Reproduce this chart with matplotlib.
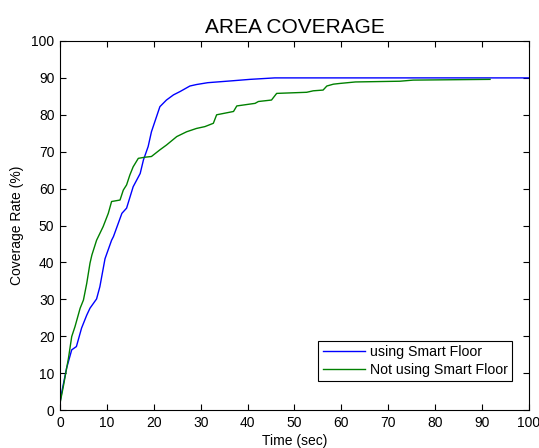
#!/usr/bin/env python3

import matplotlib.pyplot as plt
import numpy as np

plt.rcParams['font.family'] = ['Liberation Sans', 'DejaVu Sans']

# using Smart Floor
t_smart = [0, 0.4, 1.4, 2.5, 3.5, 4.6, 5.7, 6.4, 7.8, 8.5, 9.6, 11.0, 11.4, 13.2, 14.2,
           15.6, 17.1, 17.8, 18.8, 19.5, 21.3, 22.7, 24.2, 25.6, 27.7, 29.1, 31.5,
           36.6, 40.5, 45.8, 60, 80, 100]
v_smart = [2.0, 5.0, 11.3, 16.3, 17.2, 22.2, 25.7, 27.6, 30.1, 33.4, 41.0, 46.0, 47.0, 53.3, 54.7,
           60.5, 64.1, 67.8, 71.4, 75.4, 82.2, 84.0, 85.4, 86.3, 87.8, 88.2, 88.7,
           89.2, 89.6, 90.0, 90.0, 90.0, 90.0]

# Not using Smart Floor
t_plain = [0, 0.7, 1.8, 2.5, 3.2, 4.3, 5.0, 5.7, 6.4, 6.8, 7.8, 9.2, 10.3, 11.0, 12.8,
           13.5, 14.2, 14.9, 15.6, 16.7, 18.1, 19.5, 21.3, 22.7, 24.9, 27.0, 29.1,
           30.9, 32.7, 33.4, 37.0, 37.7, 41.6, 42.3, 45.1, 46.2, 52.6, 54.0, 56.1,
           56.9, 58.3, 59.7, 63.0, 72.5, 75.3, 91.7]
v_plain = [1.8, 6.3, 14.0, 19.9, 22.6, 27.6, 29.8, 34.3, 39.8, 42.0, 46.0, 49.7, 53.3, 56.5, 56.9,
           59.6, 61.0, 63.7, 65.9, 68.2, 68.5, 68.7, 70.5, 71.8, 74.1, 75.4, 76.3,
           76.8, 77.7, 80.0, 80.9, 82.4, 83.1, 83.6, 84.0, 85.8, 86.1, 86.5, 86.7,
           87.8, 88.3, 88.5, 88.9, 89.1, 89.4, 89.6]

xticks = np.arange(0, 101, 10)
yticks = np.arange(0, 101, 10)


def makePlot():
    fig = plt.figure(figsize=(5.39, 4.48), dpi=100)
    ax = fig.add_axes([0.1113, 0.0848, 0.8701, 0.8237])

    ax.plot(t_smart, v_smart, color=(0, 0, 1), lw=1.0, label='using Smart Floor')
    ax.plot(t_plain, v_plain, color=(0, 0.5, 0), lw=1.0, label='Not using Smart Floor')

    ax.set_xlim(0, 100)
    ax.set_ylim(0, 100)
    ax.set_xticks(xticks)
    ax.set_yticks(yticks)
    ax.tick_params(direction='in', top=True, right=True, length=4, width=0.8,
                   labelsize=10, pad=4)
    for s in ax.spines.values():
        s.set_linewidth(0.8)

    ax.set_xlabel('Time (sec)', fontsize=10, labelpad=3)
    ax.set_ylabel('Coverage Rate (%)', fontsize=10, labelpad=5)
    ax.set_title('AREA COVERAGE', fontsize=15, pad=6)

    leg = ax.legend(loc='lower right', fontsize=10.2, fancybox=False, framealpha=1,
                    edgecolor='black', handlelength=3.0, borderpad=0.3,
                    labelspacing=0.25, handletextpad=0.35, borderaxespad=0.0,
                    bbox_to_anchor=(0.964, 0.0786))
    leg.get_frame().set_linewidth(0.8)

    fig.savefig('out.png', dpi=100)


if __name__ == "__main__":
    makePlot()
